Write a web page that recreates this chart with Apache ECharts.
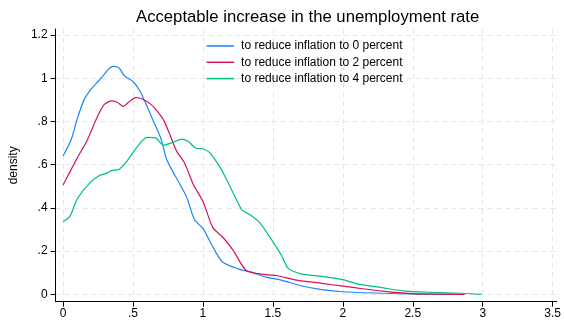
<!DOCTYPE html>
<html>
<head>
<meta charset="utf-8">
<script src="https://cdn.jsdelivr.net/npm/echarts@6/dist/echarts.min.js"></script>
<style>
  html, body { margin: 0; padding: 0; background: #fff; }
  #chart { width: 564px; height: 320px; }
</style>
</head>
<body>
<div id="chart"></div>
<script>
// Kernel density estimates of the acceptable unemployment-rate increase
const seriesNames = [
  'to reduce inflation to 0 percent',
  'to reduce inflation to 2 percent',
  'to reduce inflation to 4 percent'
];

const x0 = [0, 0.06, 0.1, 0.15, 0.2, 0.25, 0.29, 0.33, 0.36, 0.4, 0.44, 0.5, 0.55, 0.6, 0.65, 0.7, 0.74, 0.8, 0.88, 0.94, 1.0, 1.07, 1.14, 1.25, 1.33, 1.45, 1.56, 1.7, 1.85, 2.0, 2.28, 2.56, 2.8];
const y0 = [0.64, 0.72, 0.81, 0.9, 0.95, 0.985, 1.015, 1.045, 1.055, 1.048, 1.01, 0.985, 0.94, 0.87, 0.795, 0.72, 0.625, 0.55, 0.455, 0.345, 0.305, 0.22, 0.15, 0.118, 0.105, 0.08, 0.066, 0.04, 0.022, 0.012, 0.005, 0.001, 0.0];

const x2 = [0, 0.05, 0.1, 0.17, 0.23, 0.29, 0.35, 0.39, 0.43, 0.47, 0.52, 0.57, 0.63, 0.67, 0.72, 0.76, 0.81, 0.87, 0.93, 1.0, 1.07, 1.145, 1.22, 1.31, 1.45, 1.53, 1.67, 1.85, 2.0, 2.14, 2.28, 2.42, 2.56, 2.87];
const y2 = [0.506, 0.568, 0.63, 0.71, 0.8, 0.876, 0.895, 0.888, 0.87, 0.89, 0.91, 0.903, 0.878, 0.85, 0.805, 0.745, 0.665, 0.606, 0.51, 0.43, 0.31, 0.262, 0.2, 0.11, 0.091, 0.086, 0.066, 0.051, 0.038, 0.026, 0.015, 0.007, 0.002, 0.0];

const x4 = [0, 0.05, 0.1, 0.19, 0.26, 0.31, 0.35, 0.4, 0.455, 0.53, 0.6, 0.66, 0.72, 0.78, 0.85, 0.9, 0.95, 1.0, 1.05, 1.12, 1.17, 1.24, 1.28, 1.34, 1.41, 1.5, 1.56, 1.61, 1.7, 1.85, 2.0, 2.11, 2.28, 2.445, 2.64, 2.85, 2.99];
const y4 = [0.336, 0.362, 0.44, 0.515, 0.55, 0.56, 0.574, 0.578, 0.615, 0.683, 0.726, 0.724, 0.69, 0.702, 0.718, 0.705, 0.676, 0.674, 0.655, 0.59, 0.53, 0.437, 0.39, 0.367, 0.329, 0.243, 0.182, 0.12, 0.095, 0.083, 0.068, 0.047, 0.031, 0.015, 0.009, 0.005, 0.0];

const xTicks = [0, 0.5, 1, 1.5, 2, 2.5, 3, 3.5];
const yTicks = [0, 0.2, 0.4, 0.6, 0.8, 1, 1.2];

const colors = ['#1a85ff', '#d41159', '#00bf7f'];
const FONT = 'Liberation Sans, Arial, sans-serif';

// Stata-style tick labels: drop the leading zero (".5", ".2")
function fmt(v) {
  const r = Math.round(v * 100) / 100;
  if (r === 0) return '0';
  let s = String(r);
  if (s.startsWith('0.')) s = s.slice(1);
  return s;
}

function pairs(xs, ys) {
  return xs.map((x, i) => [x, ys[i]]);
}

const chart = echarts.init(document.getElementById('chart'), null, { renderer: 'canvas' });

const lineSeries = [[x0, y0], [x2, y2], [x4, y4]].map((d, i) => ({
  name: seriesNames[i],
  type: 'line',
  data: pairs(d[0], d[1]),
  showSymbol: false,
  smooth: 0.25,
  color: colors[i],
  lineStyle: { color: colors[i], width: 1.2 },
  itemStyle: { color: colors[i] },
  animation: false
}));

chart.setOption({
  animation: false,
  backgroundColor: '#ffffff',
  color: colors,
  title: {
    text: 'Acceptable increase in the unemployment rate',
    left: 131,
    top: 4,
    textStyle: { fontFamily: FONT, fontSize: 16.7, fontWeight: 'normal', color: '#000' }
  },
  legend: {
    show: true,
    orient: 'vertical',
    left: 201.5,
    top: 35,
    itemWidth: 27.6,
    itemHeight: 1.5,
    itemGap: 4.3,
    icon: 'rect',
    textStyle: { fontFamily: FONT, fontSize: 12, color: '#000', lineHeight: 12, padding: [0, 0, 0, 2] }
  },
  grid: { left: 55.5, right: 7, top: 29, bottom: 18.3 },
  xAxis: {
    type: 'value',
    min: -0.0536,
    max: 3.529,
    axisLine: { show: true, onZero: false, lineStyle: { color: '#000', width: 1 } },
    axisTick: { show: true, length: 5, customValues: xTicks, lineStyle: { color: '#000' } },
    axisLabel: { customValues: xTicks, formatter: fmt, fontFamily: FONT, fontSize: 12, color: '#000', margin: 6 },
    splitLine: { show: true, lineStyle: { color: '#e6e6e6', type: [5, 4], width: 1 } }
  },
  yAxis: {
    type: 'value',
    min: -0.034,
    max: 1.228,
    name: 'density',
    nameLocation: 'middle',
    nameGap: 34,
    nameTextStyle: { fontFamily: FONT, fontSize: 12, color: '#000' },
    axisLine: { show: true, onZero: false, lineStyle: { color: '#000', width: 1 } },
    axisTick: { show: true, length: 5, customValues: yTicks, lineStyle: { color: '#000' } },
    axisLabel: { customValues: yTicks, formatter: fmt, fontFamily: FONT, fontSize: 12, color: '#000', margin: 8 },
    splitLine: { show: true, lineStyle: { color: '#e6e6e6', type: [5, 4], width: 1 } }
  },
  series: lineSeries
});
</script>
</body>
</html>
